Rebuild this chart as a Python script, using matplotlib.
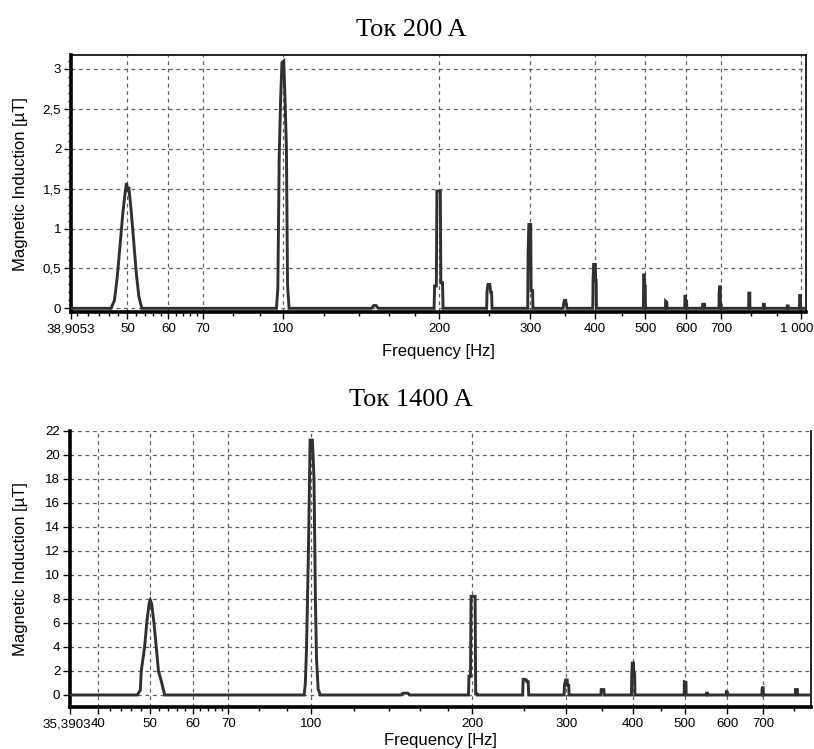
import numpy as np
import matplotlib
matplotlib.use("Agg")
import matplotlib.pyplot as plt
from matplotlib.ticker import FixedLocator, FixedFormatter
from matplotlib.transforms import ScaledTranslation

plt.rcParams["font.family"] = ["Liberation Sans", "DejaVu Sans"]

# --- spectrum vertices: Ток 200 A ---
freq_200 = [38.9053,
            46.5, 47.2, 47.8, 48.4, 49.0, 49.5, 49.8, 50.1, 50.3, 50.8, 51.4, 52.0, 52.6, 53.3,
            97.0, 97.6, 98.2, 98.8, 99.4, 100.2, 100.8, 101.4, 101.9, 102.6,
            148.0, 149.5, 151.0, 152.5,
            195.5, 196.0, 197.5, 198.0, 201.0, 201.5, 203.0, 203.5,
            247.0, 247.5, 248.5, 250.5, 251.5, 252.5, 253.0,
            296.5, 297.0, 298.0, 300.5, 301.0, 303.0, 303.5,
            347.0, 348.0, 349.0, 351.0, 352.0, 353.0,
            396.0, 396.5, 397.5, 400.5, 401.0, 402.0, 402.5,
            496.0, 496.5, 498.0, 498.5, 500.0, 500.5,
            547.0, 547.5, 549.5, 550.5, 551.0,
            596.0, 596.5, 598.0, 598.5, 601.0, 601.5,
            645.0, 645.5, 651.0, 651.5,
            694.0, 694.5, 696.0, 698.0, 698.5, 701.0, 701.5,
            792.0, 792.5, 796.0, 796.5,
            845.0, 845.5, 849.0, 849.5,
            940.0, 940.5, 944.0, 944.5,
            993.0, 993.5, 997.0, 997.5,
            1022.0]
ind_200 = [0,
           0, 0.10, 0.40, 0.80, 1.20, 1.45, 1.57, 1.47, 1.52, 1.25, 0.85, 0.45, 0.15, 0,
           0, 0.25, 1.90, 2.60, 3.08, 3.10, 2.60, 2.00, 0.30, 0,
           0, 0.035, 0.035, 0,
           0, 0.28, 0.28, 1.47, 1.47, 0.32, 0.32, 0,
           0, 0.22, 0.30, 0.30, 0.20, 0.20, 0,
           0, 0.69, 1.05, 1.05, 0.22, 0.22, 0,
           0, 0.06, 0.10, 0.10, 0.06, 0,
           0, 0.35, 0.55, 0.55, 0.35, 0.35, 0,
           0, 0.42, 0.42, 0.28, 0.28, 0,
           0, 0.09, 0.08, 0.07, 0,
           0, 0.15, 0.15, 0.09, 0.09, 0,
           0, 0.05, 0.05, 0,
           0, 0.18, 0.27, 0.27, 0.04, 0.04, 0,
           0, 0.19, 0.19, 0,
           0, 0.05, 0.05, 0,
           0, 0.03, 0.03, 0,
           0, 0.16, 0.16, 0,
           0]

# --- Ток 1400 A ---
freq_1400 = [35.3903,
             47.3, 47.9, 48.1, 48.8, 49.3, 49.8, 50.0, 50.3, 50.8, 51.3, 51.8, 52.4, 53.2,
             97.0, 97.5, 98.0, 98.8, 99.5, 100.5, 101.2, 101.8, 102.3, 103.0, 104.0,
             147.0, 148.5, 151.5, 153.0,
             196.8, 197.2, 198.5, 199.0, 202.5, 203.0, 204.0, 204.5,
             248.5, 249.0, 251.0, 252.5, 253.0, 254.5, 255.0,
             297.0, 297.5, 299.0, 301.0, 301.5, 303.0, 303.5,
             348.0, 348.5, 352.5, 353.0,
             397.0, 397.5, 398.5, 400.5, 401.0, 402.5, 403.0,
             498.0, 498.5, 502.0, 502.5,
             548.0, 548.5, 551.0, 551.5,
             597.0, 597.5, 600.5, 601.0,
             696.0, 696.5, 697.5, 700.0, 700.5,
             804.0, 804.5, 811.0, 811.5,
             860.0]
ind_1400 = [0,
            0, 0.4, 2.0, 4.0, 6.2, 7.7, 7.9, 7.6, 6.0, 4.0, 2.0, 1.2, 0,
            0, 1.0, 4.0, 12.0, 21.2, 21.2, 18.0, 8.0, 3.0, 0.5, 0,
            0, 0.15, 0.15, 0,
            0, 1.56, 1.56, 8.2, 8.2, 0.1, 0.1, 0,
            0, 1.3, 1.3, 1.25, 1.1, 1.1, 0,
            0, 0.8, 1.25, 1.25, 0.8, 0.8, 0,
            0, 0.45, 0.45, 0,
            0, 1.75, 2.65, 2.65, 1.75, 1.75, 0,
            0, 1.1, 1.05, 0,
            0, 0.15, 0.15, 0,
            0, 0.25, 0.2, 0,
            0, 0.45, 0.6, 0.6, 0,
            0, 0.45, 0.45, 0,
            0]

xticks_200 = [38.9053, 50, 60, 70, 100, 200, 300, 400, 500, 600, 700, 1000]
xlabels_200 = ["38,9053", "50", "60", "70", "100", "200", "300", "400", "500", "600", "700", "1 000"]
xticks_1400 = [35.3903, 40, 50, 60, 70, 100, 200, 300, 400, 500, 600, 700]
xlabels_1400 = ["35,3903", "40", "50", "60", "70", "100", "200", "300", "400", "500", "600", "700"]
xminor = [40, 42, 44, 46, 48, 52, 54, 56, 58, 62, 64, 66, 68, 80, 90,
          120, 140, 160, 180, 250, 350, 450, 800, 900]
yticks_200 = [0, 0.5, 1, 1.5, 2, 2.5, 3]
ylabels_200 = ["0", "0,5", "1", "1,5", "2", "2,5", "3"]
yticks_1400 = list(range(0, 23, 2))

LINE = "#303030"

fig = plt.figure(figsize=(8.14, 7.49), dpi=100)
ax1 = fig.add_axes([71 / 814, 1 - 312.3 / 749, 735 / 814, 257.3 / 749])
ax2 = fig.add_axes([70 / 814, 1 - 707 / 749, 741 / 814, 276.5 / 749])


def style(ax, f, v, xlim, ylim, xt, xl, yt, yl, ylab_x, xpad):
    ax.set_xscale("log")
    ax.plot(f, v, color=LINE, lw=2.1, solid_joinstyle="miter", zorder=3)
    ax.set_xlim(*xlim); ax.set_ylim(*ylim)
    ax.xaxis.set_major_locator(FixedLocator(xt))
    ax.xaxis.set_major_formatter(FixedFormatter(xl))
    ax.xaxis.set_minor_locator(FixedLocator([m for m in xminor if xlim[0] < m < xlim[1] and m not in xt]))
    ax.xaxis.set_minor_formatter(FixedFormatter([]))
    ax.set_yticks(yt); ax.set_yticklabels(yl)
    ax.tick_params(axis="both", which="major", labelsize=9.6, length=5, width=1, color="black")
    ax.tick_params(axis="x", which="major", pad=3)
    ax.tick_params(axis="y", which="major", pad=2)
    ax.tick_params(axis="x", which="minor", length=3, width=1)
    ax.grid(True, which="major", ls=(0, (3, 3)), color="#606060", lw=0.9, zorder=1)
    for s in ("left", "bottom"):
        ax.spines[s].set_linewidth(2.6)
    for s in ("top", "right"):
        ax.spines[s].set_linewidth(1.2)
    ax.set_xlabel("Frequency [Hz]", fontsize=12, labelpad=xpad)
    ax.set_ylabel("Magnetic Induction [µT]", fontsize=12)
    ax.yaxis.set_label_coords(ylab_x, 0.5)


def nudge(label, dx_px):
    label.set_transform(label.get_transform() + ScaledTranslation(dx_px / 100, 0, fig.dpi_scale_trans))


style(ax1, freq_200, ind_200, (38.9053, 1022), (-0.05, 3.175),
      xticks_200, xlabels_200, yticks_200, ylabels_200, -0.058, 6)
ax1.yaxis.set_minor_locator(FixedLocator([i / 10 for i in range(0, 32) if i % 5]))
ax1.tick_params(axis="y", which="minor", length=2, width=1)
# the last label sits at the right edge; nudge it inside the figure
nudge(ax1.get_xticklabels()[-1], -4)

style(ax2, freq_1400, ind_1400, (35.3903, 860), (-1, 22),
      xticks_1400, xlabels_1400, yticks_1400, [str(t) for t in yticks_1400], -0.057, 2)
ax2.spines["top"].set_visible(False)
nudge(ax2.get_xticklabels()[0], -3)

fig.text(0.505, 1 - 30 / 749, "Ток 200 A", ha="center", va="center",
         fontsize=19, family="Liberation Serif")
fig.text(0.505, 1 - 400 / 749, "Ток 1400 A", ha="center", va="center",
         fontsize=19, family="Liberation Serif")

fig.savefig("out.png", dpi=100)
